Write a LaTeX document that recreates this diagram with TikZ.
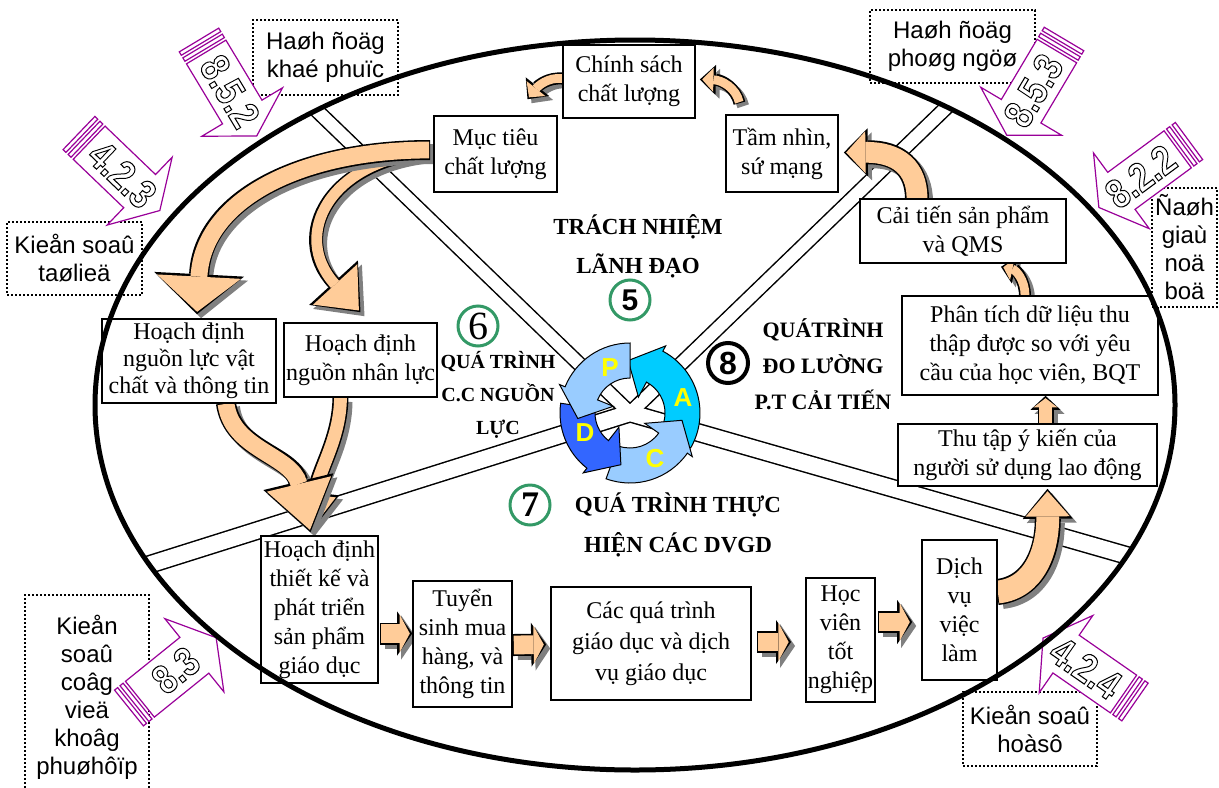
\documentclass[tikz,border=0pt]{standalone}
\usepackage{fontspec}
\usepackage{graphicx}
\setmainfont{Liberation Serif}
\newfontfamily\vnifont{Liberation Sans}
\usetikzlibrary{arrows.meta,calc}

\definecolor{peach}{HTML}{FFCC99}
\definecolor{shadowgray}{HTML}{808080}
\definecolor{isogreen}{HTML}{339966}
\definecolor{clausepurple}{HTML}{990099}
\definecolor{plight}{HTML}{99CCFF}
\definecolor{acyan}{HTML}{00CCFF}
\definecolor{dblue}{HTML}{3366FF}
\definecolor{pdcayellow}{HTML}{FFFF00}

\pgfdeclarelayer{rays}
\pgfdeclarelayer{flow}
\pgfsetlayers{rays,flow,main}

\tikzset{
  box/.style={draw, fill=white, line width=0.8pt, align=center, inner sep=1pt,
    font=\fontsize{12}{14.5}\selectfont},
  note/.style={draw, densely dotted, line width=1pt, fill=white, align=center, inner sep=1pt,
    font=\vnifont\fontsize{12}{14}\selectfont},
  heading/.style={align=center, inner sep=0pt, font=\bfseries\fontsize{11}{18}\selectfont},
  isocircle/.style={circle, draw=isogreen, line width=1.5pt, minimum size=20pt, inner sep=0pt},
  rayedge/.style={line width=7.75pt, black},
  raycore/.style={line width=6.25pt, white},
  pdcaletter/.style={text=pdcayellow, font=\vnifont\bfseries\fontsize{13}{13}\selectfont, inner sep=0pt},
}

\newcommand\outlinetext[1]{\special{pdf:literal direct 1 Tr 0.45 w}#1\special{pdf:literal direct 0 Tr}}

\newcommand\clausearrow[4]{%
  \begin{scope}[shift={#1}, rotate=#2, x=0.5pt, y=0.5pt]
    \filldraw[draw=clausepurple, fill=white, line width=0.6pt] (0,-23) rectangle (4,23);
    \filldraw[draw=clausepurple, fill=white, line width=0.6pt] (7,-23) rectangle (11,23);
    \filldraw[draw=clausepurple, fill=white, line width=0.6pt] (14,-23) -- (84,-23) -- (84,-47)
      -- (112,0) -- (84,47) -- (84,23) -- (14,23) -- cycle;
    \node[rotate=#4, text=black, inner sep=0pt] at (60,0)
      {\scalebox{1}[1.2]{\vnifont\bfseries\fontsize{17}{17}\selectfont\outlinetext{#3}}};
  \end{scope}}

\newcommand\flowarrow[4]{%
  \pgfmathsetlengthmacro\fawidth{#1-1.6pt}%
  \pgfmathsetlengthmacro\fahw{#2-3pt}%
  \pgfmathsetlengthmacro\fahl{#3-2.4pt}%
  \draw[shadowgray, transform canvas={xshift=2pt,yshift=-2pt}, line width=#1,
    -{Triangle[length=#3,width=#2,line width=0pt 0]}] #4;
  \draw[black, line width=#1, shorten <=-0.5pt,
    -{Triangle[length=#3,width=#2,line width=0pt 0]}] #4;
  \draw[peach, line width=\fawidth, shorten >=1.2pt,
    -{Triangle[length=\fahl,width=\fahw,line width=0pt 0]}] #4;}

\newcommand\pdcaarrow[4]{%
  \filldraw[fill=#4, draw=black, line width=0.5pt]
    (#1:17.5) arc[start angle=#1, end angle=#2, radius=17.5] -- (#2:9) -- (#3:26.25)
    -- (#2:38) -- (#2:35) arc[start angle=#2, end angle=#1, radius=35] -- cycle;}

\begin{document}
\begin{tikzpicture}[x=0.5pt, y=-0.5pt]
\useasboundingbox (0,0) rectangle (1219,787);
\coordinate (O) at (630,413);

\begin{pgfonlayer}{rays}
\begin{scope}
  \clip (635,405) ellipse [x radius=540, y radius=365];
  \foreach \a in {136,44} \draw[rayedge] (O) -- ($(O)+(\a:360pt)$);
  \foreach \a in {197.5,-16} \draw[rayedge, line width=9.5pt] (O) -- ($(O)+(\a:360pt)$);
  \foreach \a in {136,44} \draw[raycore] (O) -- ($(O)+(\a:360pt)$);
  \foreach \a in {197.5,-16} \draw[raycore, line width=8pt] (O) -- ($(O)+(\a:360pt)$);
\end{scope}
\end{pgfonlayer}

\node[box, minimum width=66pt, minimum height=36.5pt] (cs) at (629,81.5) {Chính sách\\chất lượng};
\node[box, minimum width=61.5pt, minimum height=38pt] (mt) at (495.5,154) {Mục tiêu\\chất lượng};
\node[box, minimum width=56pt, minimum height=38.5pt] (tn) at (782,153.5) {Tầm nhìn,\\sứ mạng};
\node[box, minimum width=103pt, minimum height=32pt] (ct) at (963,231) {Cải tiến sản phẩm\\và QMS};
\node[box, minimum width=128pt, minimum height=49.5pt] (pt) at (1030,345.5) {Phân tích dữ liệu thu\\thập được so với yêu\\cầu của học viên, BQT};
\node[box, minimum width=129.5pt, minimum height=31pt] (tt) at (1027.5,455) {Thu tập ý kiến của\\người sử dụng lao động};
\node[box, minimum width=37.5pt, minimum height=70pt] (dv) at (959.5,610) {Dịch\\vụ\\việc\\làm};
\node[box, minimum width=34.5pt, minimum height=62pt] (hv) at (840.5,640) {Học\\viên\\tốt\\nghiệp};
\node[box, minimum width=100pt, minimum height=56.5pt, font=\fontsize{12}{15.5}\selectfont] (cq) at (651,643.5) {Các quá trình\\giáo dục và dịch\\vụ giáo dục};
\node[box, minimum width=49.5pt, minimum height=63pt] (ts) at (462.5,644) {Tuyển\\sinh mua\\hàng, và\\thông tin};
\node[box, minimum width=58.5pt, minimum height=73.5pt] (tk) at (319.5,609.5) {Hoạch định\\thiết kế và\\phát triển\\sản phẩm\\giáo dục};
\node[box, minimum width=87pt, minimum height=42pt, font=\fontsize{12}{13.5}\selectfont] (vc) at (189,361) {Hoạch định\\nguồn lực vật\\chất và thông tin};
\node[box, minimum width=76.5pt, minimum height=37pt] (nl) at (360.5,360) {Hoạch định\\nguồn nhân lực};

\begin{pgfonlayer}{flow}
\flowarrow{6pt}{15pt}{8pt}{($(cs.west)+(0,-3)$) .. controls (548,77) and (538,86) .. ($(mt.north)+(32,-16)$)}
\flowarrow{6pt}{15pt}{8pt}{($(tn.north west)+(14,-12)$) .. controls (736,88) and (722,80) .. ($(cs.east)+(4,-2)$)}
\flowarrow{12pt}{24pt}{12pt}{($(ct.north)+(-46,0)$) .. controls (917,168) and (898,152) .. ($(tn.east)+(5,-1)$)}
\flowarrow{6pt}{14pt}{7pt}{($(pt.north)+(-5,0)$) .. controls (1025,280) and (1016,270) .. ($(ct.south)+(38,3)$)}
\flowarrow{8pt}{15pt}{7pt}{($(tt.north)+(18,0)$) -- ($(pt.south)+(15.5,0)$)}
\flowarrow{13pt}{25pt}{15pt}{($(dv.east)+(0,-18)$) .. controls (1035,588) and (1048,550) .. ($(tt.south)+(20,2)$)}
\flowarrow{11pt}{22pt}{7.5pt}{($(tk.east)+(2,24)$) -- ($(ts.west)+(0,-10.5)$)}
\flowarrow{11pt}{22pt}{7.5pt}{($(ts.east)+(1,1)$) -- ($(cq.west)+(-4,1)$)}
\flowarrow{11pt}{22pt}{7.5pt}{($(cq.east)+(6,-1.5)$) -- ($(hv.west)+(-14,2)$)}
\flowarrow{11pt}{22pt}{7.5pt}{($(hv.east)+(3,-18)$) -- ($(dv.west)+(-9,12)$)}
\flowarrow{8pt}{24pt}{20pt}{($(nl.south)+(-20,0)$) .. controls (340,440) and (318,470) .. ($(tk.north)+(-9,-3)$)}
\flowarrow{10pt}{36pt}{26pt}{($(vc.south)+(37,0)$) .. controls (232,450) and (292,455) .. ($(tk.north)+(-9,-3)$)}
\flowarrow{7pt}{33pt}{20pt}{($(mt.west)+(-4,-2)$) .. controls (330,160) and (290,235) .. ($(nl.north)+(0,-10)$)}
\flowarrow{10pt}{45pt}{20pt}{($(mt.west)+(-4,-4)$) .. controls (300,150) and (203,200) .. ($(vc.north)+(8,-4)$)}
\end{pgfonlayer}

\node[note, minimum width=72.5pt, minimum height=37.5pt] (hk) at (325.5,57.5) {Haøh ñoäg\\khaé phuïc};
\node[note, minimum width=82.5pt, minimum height=36.5pt] (hp) at (952.5,46.5) {Haøh ñoäg\\phoøg ngöø};
\node[note, minimum width=67.5pt, minimum height=36.5pt] (ks) at (74.5,258.5) {Kieån soaû\\taølieä};
\node[note, minimum width=32.5pt, minimum height=59.5pt] (dg) at (1184.5,247.5) {Ñaøh\\giaù\\noä\\boä};
\node[note, minimum width=62pt, minimum height=102.5pt] (kc) at (87,697.5) {Kieån\\soaû\\coâg\\vieä\\khoâg\\phuøhôïp};
\node[note, minimum width=67pt, minimum height=37pt] (kh) at (1030,729) {Kieån soaû\\hoàsô};

\clausearrow{(199,40)}{-59}{8.5.2}{-59}
\clausearrow{(79,133)}{-43.8}{4.2.3}{-43.8}
\clausearrow{(1064,39)}{-120.7}{8.5.3}{59.3}
\clausearrow{(1189,141)}{-143.6}{8.2.2}{36.4}
\clausearrow{(129,708)}{38.9}{8.3}{38.9}
\clausearrow{(1135,702)}{145.2}{4.2.4}{-34.8}

\node[heading, font=\bfseries\fontsize{11.5}{19.5}\selectfont] (lead) at (638,246) {TRÁCH NHIỆM\\LÃNH ĐẠO};
\node[heading, font=\bfseries\fontsize{10}{16.5}\selectfont] (res) at (498,395) {QUÁ TRÌNH\\C.C NGUỒN\\LỰC};
\node[heading] (meas) at (823,364) {QUÁTRÌNH\\ĐO LƯỜNG\\P.T CẢI TIẾN};
\node[heading, font=\bfseries\fontsize{11.5}{20}\selectfont] (real) at (678,525) {QUÁ TRÌNH THỰC\\HIỆN CÁC DVGD};

\node[isocircle] (n5) at (630,300) {\vnifont\bfseries\fontsize{15}{15}\selectfont 5};
\node[isocircle] (n6) at (478,326) {\fontsize{20}{20}\selectfont 6};
\node[isocircle] (n7) at (530,505) {\bfseries\fontsize{18}{18}\selectfont 7};
\node[isocircle, draw=black, line width=2pt] (n8) at (728,363) {\vnifont\bfseries\fontsize{16}{16}\selectfont 8};

\begin{scope}[shift={(O)}, x=1pt, y=1pt]
  \pdcaarrow{-30}{62}{92}{acyan}
  \pdcaarrow{250}{325}{352}{plight}
  \pdcaarrow{172}{232}{260}{dblue}
  \pdcaarrow{90}{158}{186}{plight}
  \node[pdcaletter] (p) at (-10,22.5) {P};
  \node[pdcaletter] (d) at (-22.5,-10) {D};
  \node[pdcaletter] (c) at (12.5,-23) {C};
  \node[pdcaletter] (a) at (26.5,7.5) {A};
\end{scope}

\draw[line width=2.5pt] (635,405) ellipse [x radius=540, y radius=365];
\end{tikzpicture}
\end{document}
